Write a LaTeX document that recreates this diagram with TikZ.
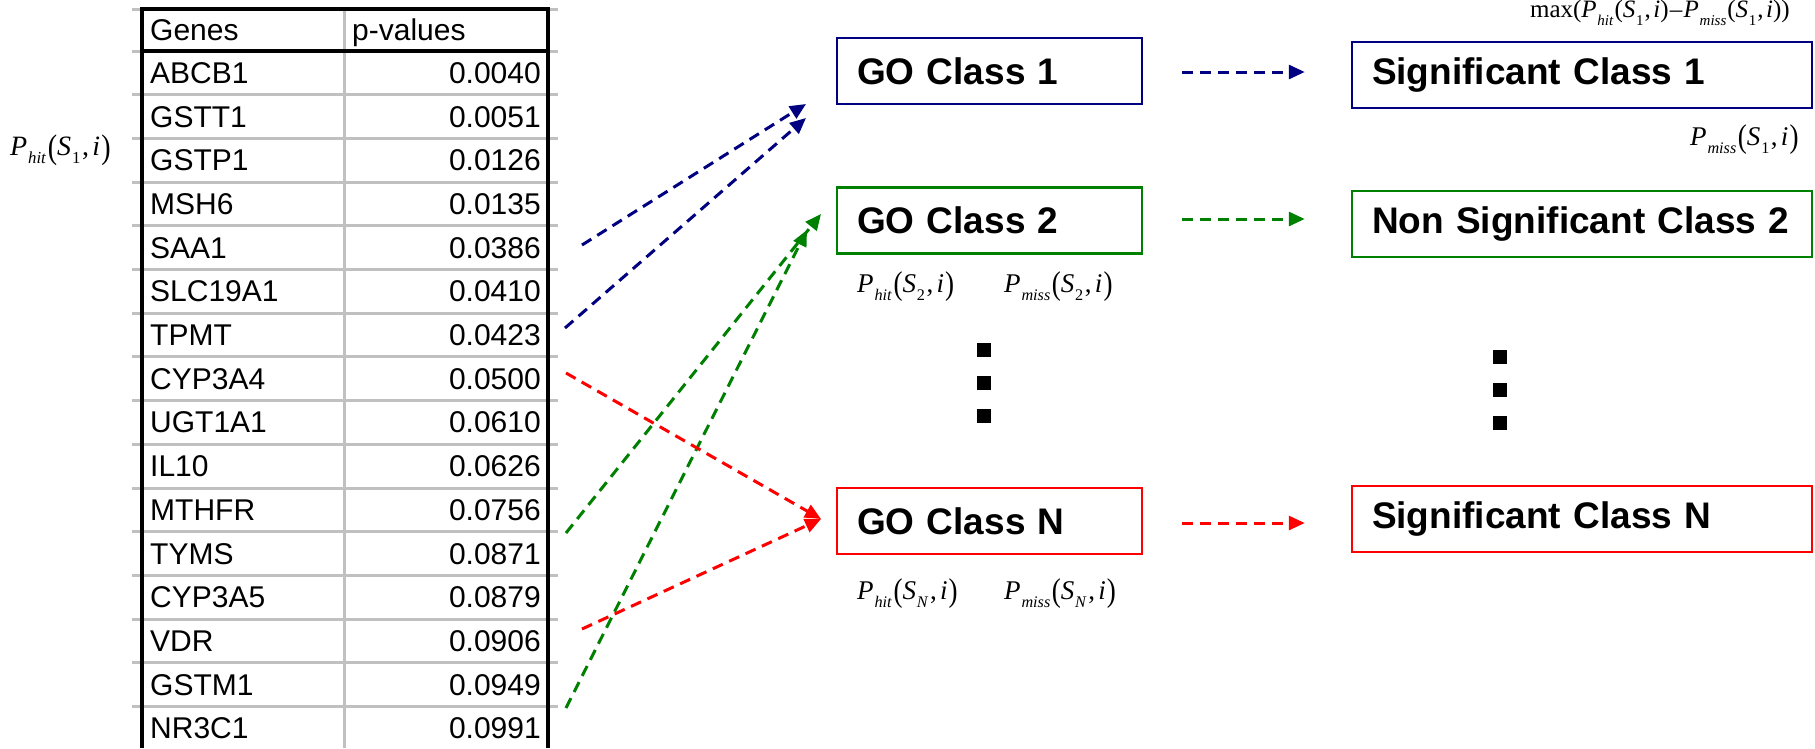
\documentclass[tikz,border=0pt]{standalone}
\usepackage{fontspec}
\usepackage{graphicx}
\setmainfont{Liberation Serif}
\newfontfamily\arial{Liberation Sans}
\usetikzlibrary{arrows.meta}
\definecolor{navyc}{RGB}{0,0,128}
\definecolor{greenc}{RGB}{0,128,0}
\definecolor{redc}{RGB}{255,0,0}
\definecolor{gridc}{RGB}{192,192,192}
\newcommand{\sbx}[1]{\raisebox{-0.3em}{\scalebox{0.6}{#1}}}
\newcommand{\bpar}[1]{\raisebox{-0.1em}{\scalebox{1}[1.22]{#1}}}
\newcommand{\Pf}[2]{\textit{P}\kern0.03em\sbx{\textit{#1}}\kern0.06em\bpar{(}\textit{S}\kern0.03em\sbx{#2}\kern0.06em,\kern0.12em\textit{i}\kern0.04em\bpar{)}}
\newcommand{\Pn}[2]{\textit{P}\kern0.03em\sbx{\textit{#1}}\kern0.04em(\textit{S}\kern0.03em\sbx{#2}\kern0.04em,\kern0.1em\textit{i})}
\begin{document}
\begin{tikzpicture}[x=1pt,y=-1pt,
  cell/.style={font=\arial\fontsize{30}{36}\selectfont, inner sep=0pt},
  formula/.style={inner sep=0pt, anchor=west},
  classbox/.style={draw, line width=2.5pt, inner xsep=20pt, inner ysep=0pt, minimum height=66pt, align=left, font=\arial\bfseries\fontsize{37}{44}\selectfont},
  gobox/.style={classbox, text width=265pt},
  sigbox/.style={classbox, text width=420pt},
  darrow/.style={line width=3pt, dash pattern=on 11pt off 7pt, -{Triangle[length=16pt,width=14pt]}},
  dotsq/.style={fill=black, minimum size=14pt, inner sep=0pt}
]
\fill[white] (0,0) rectangle (1815,748);
\useasboundingbox (0,0) rectangle (1815,748);

% table grid
\foreach \k in {0,...,15} {
  \draw[gridc, line width=3pt] (132,{51+\k*43.7}) -- (558,{51+\k*43.7});
}
\draw[gridc, line width=3pt] (132,9) -- (558,9);
\draw[gridc, line width=3pt] (344,9) -- (344,748);
\draw[black, line width=4pt] (142,7) -- (142,748);
\draw[black, line width=4pt] (548,7) -- (548,748);
\draw[black, line width=4pt] (140,9) -- (550,9);
\draw[black, line width=4pt] (140,51) -- (550,51);

\node[cell, anchor=base west] (hg) at (150,40.5) {Genes};
\node[cell, anchor=base west] (hp) at (352,40.5) {p-values};
\foreach \g/\v [count=\k] in {ABCB1/0.0040, GSTT1/0.0051, GSTP1/0.0126, MSH6/0.0135, SAA1/0.0386, SLC19A1/0.0410, TPMT/0.0423, CYP3A4/0.0500, UGT1A1/0.0610, IL10/0.0626, MTHFR/0.0756, TYMS/0.0871, CYP3A5/0.0879, VDR/0.0906, GSTM1/0.0949, NR3C1/0.0991} {
  \node[cell, anchor=base west] (g\k) at (150,{51+(\k-0.5)*43.7+10.5}) {\g};
  \node[cell, anchor=base east] (v\k) at (541,{51+(\k-0.5)*43.7+10.5}) {\v};
}

% formulas
\node[formula, font=\fontsize{28}{33}\selectfont] (f0) at (10,150) {\Pf{hit}{1}};
\node[formula, font=\fontsize{27}{32}\selectfont] (f1) at (857,287) {\Pf{hit}{2}};
\node[formula, font=\fontsize{27}{32}\selectfont] (f2) at (1004,287) {\Pf{miss}{2}};
\node[formula, font=\fontsize{27}{32}\selectfont] (f3) at (857,594) {\Pf{hit}{\textit{N}}};
\node[formula, font=\fontsize{27}{32}\selectfont] (f4) at (1004,594) {\Pf{miss}{\textit{N}}};
\node[formula, font=\fontsize{27}{32}\selectfont] (f5) at (1690,140) {\Pf{miss}{1}};
\node[formula, anchor=east, font=\fontsize{25}{30}\selectfont] (f6) at (1790,13) {max(\Pn{hit}{1}\kern0.05em--\kern0.05em\Pn{miss}{1})};

% class boxes
\node[gobox, draw=navyc] (go1) at (989.5,71) {GO Class 1};
\node[gobox, draw=greenc] (go2) at (989.5,220.5) {GO Class 2};
\node[gobox, draw=redc] (goN) at (989.5,521) {GO Class N};
\node[sigbox, draw=navyc] (s1) at (1582,75) {Significant Class 1};
\node[sigbox, draw=greenc] (s2) at (1582,224) {Non Significant Class 2};
\node[sigbox, draw=redc] (sN) at (1582,519) {Significant Class N};

% dots
\foreach \y [count=\k] in {350,383,416} {
  \node[dotsq] (dl\k) at (984,\y) {};
}
\foreach \y [count=\k] in {357,390,423} {
  \node[dotsq] (dr\k) at (1500,\y) {};
}

% arrow endpoints
\coordinate (b1s) at (582,245); \coordinate (b1e) at (806,104);
\coordinate (b2s) at (565,328); \coordinate (b2e) at (806,118);
\coordinate (g1s) at (566,533); \coordinate (g1e) at (821,214);
\coordinate (g2s) at (566,708); \coordinate (g2e) at (807,230);
\coordinate (r1s) at (566,373); \coordinate (r1e) at (821,519);
\coordinate (r2s) at (582,629); \coordinate (r2e) at (821,519);

\draw[darrow, navyc] (b1s) -- (b1e);
\draw[darrow, navyc] (b2s) -- (b2e);
\draw[darrow, greenc] (g1s) -- (g1e);
\draw[darrow, greenc] (g2s) -- (g2e);
\draw[darrow, redc] (r1s) -- (r1e);
\draw[darrow, redc] (r2s) -- (r2e);

\draw[darrow, navyc] ([xshift=39pt]go1.east |- 0,72) -- ([xshift=-46pt]s1.west |- 0,72);
\draw[darrow, greenc] ([xshift=39pt]go2.east |- 0,219) -- ([xshift=-46pt]s2.west |- 0,219);
\draw[darrow, redc] ([xshift=39pt]goN.east |- 0,523) -- ([xshift=-46pt]sN.west |- 0,523);
\end{tikzpicture}
\end{document}
